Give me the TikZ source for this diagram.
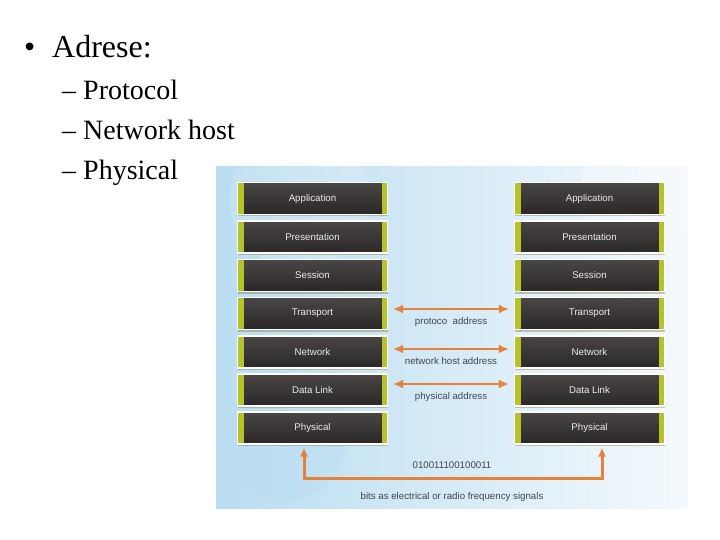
\documentclass[tikz,border=0pt]{standalone}
\usepackage{fontspec}
\setmainfont{Liberation Serif}
\newfontfamily\labelfont{Liberation Sans}
\usetikzlibrary{calc}
\usetikzlibrary{positioning}
\usetikzlibrary{arrows.meta}
\usetikzlibrary{shadows}

\definecolor{boxtop}{HTML}{4A4646}
\definecolor{boxbot}{HTML}{2A2727}
\definecolor{stripe}{HTML}{B5C22A}
\definecolor{orangeline}{HTML}{E5813A}
\definecolor{labelgray}{HTML}{3E4650}
\definecolor{panelleft}{HTML}{B9DDF1}
\definecolor{panelright}{HTML}{F4F9FC}

\tikzset{
  layer/.style={draw=white, line width=1.2pt, top color=boxtop, bottom color=boxbot,
    minimum width=150pt, minimum height=32pt, inner sep=0pt,
    text=white!92!black, font=\labelfont\fontsize{9.7}{10}\selectfont,
    drop shadow={fill=olive!70!black, opacity=0.35, shadow xshift=0.5pt, shadow yshift=-2pt},
    path picture={
      \fill[stripe] (path picture bounding box.north west) rectangle
        ([xshift=6pt]path picture bounding box.south west);
      \fill[stripe] ([xshift=-6pt]path picture bounding box.north east) rectangle
        (path picture bounding box.south east);
    }},
  link/.style={draw=orangeline, line width=2pt, {Latex[length=10pt,width=9pt]}-{Latex[length=10pt,width=9pt]}},
  bus/.style={draw=orangeline, line width=3pt, {Latex[length=9pt,width=8pt]}-{Latex[length=9pt,width=8pt]}},
  lbl/.style={text=labelgray, font=\labelfont\fontsize{9.7}{10}\selectfont, inner sep=0pt},
  bigtext/.style={anchor=base west, inner sep=0pt, font=\fontsize{32}{36}\selectfont},
  subtext/.style={anchor=base west, inner sep=0pt, font=\fontsize{28}{32}\selectfont}
}

\begin{document}
\begin{tikzpicture}[x=1pt, y=-1pt]
		\useasboundingbox (0,0) rectangle (720,540);
		\fill[white] (0,0) rectangle (720,540);

		% bullet list
		\node[bigtext] (bul) at (24,58) {\textbullet};
		\node[bigtext] (adr) at (52,58) {Adrese:};
		\node[subtext] (sub1) at (62,100) {\textendash\ Protocol};
		\node[subtext] (sub2) at (62,140) {\textendash\ Network host};
		\node[subtext] (sub3) at (62,180) {\textendash\ Physical};

		% picture panel
		\shade[left color=panelleft, right color=panelright] (216,167) rectangle (688,508);
		\begin{scope}
			\clip (216,167) rectangle (688,508);
			\fill[white, opacity=0.15] (300,200) circle (70);
			\fill[white, opacity=0.25] (640,190) circle (60);
			\fill[panelleft, opacity=0.35] (285,440) circle (62);
		\end{scope}

		% left stack
		\node[layer] (lapp) at (312.5,198.5) {Application};
		\node[layer] (lpre) at (312.5,237) {Presentation};
		\node[layer] (lses) at (312.5,275.5) {Session};
		\node[layer] (ltra) at (312.5,313.5) {Transport};
		\node[layer] (lnet) at (312.5,352) {Network};
		\node[layer] (ldat) at (312.5,390) {Data Link};
		\node[layer] (lphy) at (312.5,428) {Physical};

		% right stack
		\node[layer] (rapp) at (589.5,198.5) {Application};
		\node[layer] (rpre) at (589.5,237) {Presentation};
		\node[layer] (rses) at (589.5,275.5) {Session};
		\node[layer] (rtra) at (589.5,313.5) {Transport};
		\node[layer] (rnet) at (589.5,352) {Network};
		\node[layer] (rdat) at (589.5,390) {Data Link};
		\node[layer] (rphy) at (589.5,428) {Physical};

		% peer addresses
		\draw[link] ([xshift=5pt,yshift=4.5pt]ltra.east) -- node[lbl, yshift=-13pt] (tlbl) {protoco\ \ address} ([xshift=-5pt,yshift=4.5pt]rtra.west);
		\draw[link] ([xshift=5pt,yshift=3pt]lnet.east) -- node[lbl, yshift=-12pt] (nlbl) {network host address} ([xshift=-5pt,yshift=3pt]rnet.west);
		\draw[link] ([xshift=5pt,yshift=6pt]ldat.east) -- node[lbl, yshift=-13pt] (dlbl) {physical address} ([xshift=-5pt,yshift=6pt]rdat.west);

		% physical medium
		\coordinate (bl) at (304,478);
		\coordinate (br) at (602,478);
		\draw[bus] ([yshift=-3pt]lphy.south -| bl) -- (bl) -- (br) -- ([yshift=-3pt]rphy.south -| br);
		\node[lbl] (bits) at (452,465) {010011100100011};
		\node[lbl] (sig) at (452,497) {bits as electrical or radio frequency signals};
\end{tikzpicture}
\end{document}
